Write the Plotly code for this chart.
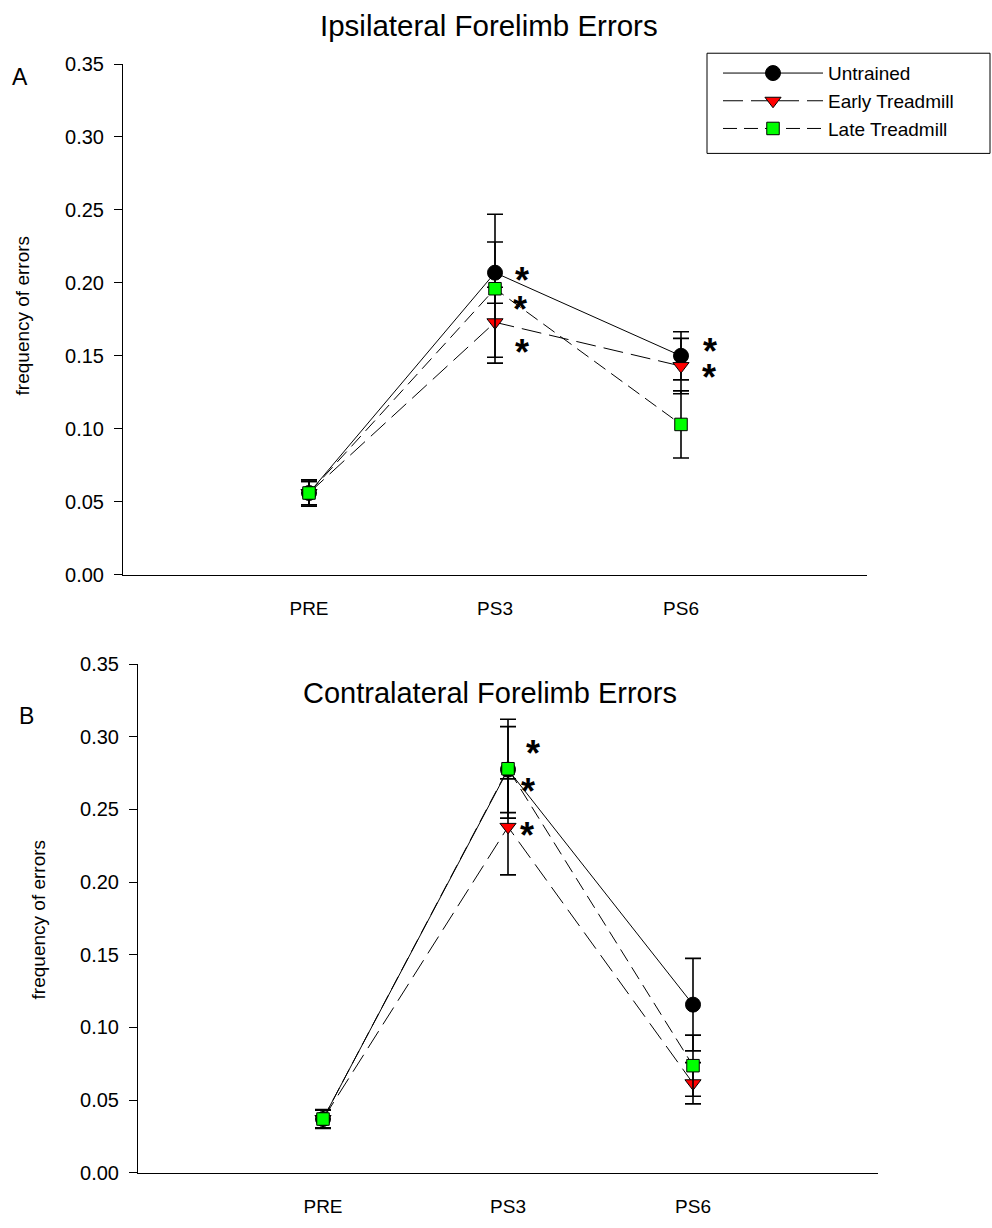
import plotly.graph_objects as go

categories = ["PRE", "PS3", "PS6"]
cat_pos = [1, 2, 3]

ipsi_untrained = [0.056, 0.207, 0.150]
ipsi_untrained_err = [0.008, 0.021, 0.0165]
ipsi_early = [0.056, 0.173, 0.143]
ipsi_early_err = [0.008, 0.024, 0.019]
ipsi_late = [0.056, 0.196, 0.103]
ipsi_late_err = [0.009, 0.051, 0.023]

contra_untrained = [0.037, 0.2774, 0.1157]
contra_untrained_err = [0.006, 0.0296, 0.0318]
contra_early = [0.037, 0.238, 0.0616]
contra_early_err = [0.006, 0.033, 0.0142]
contra_late = [0.037, 0.278, 0.0737]
contra_late_err = [0.0065, 0.034, 0.021]

series_names = ["Untrained", "Early Treadmill", "Late Treadmill"]

# significance asterisks (x in category units, y value)
ipsi_star_x = [2.144, 2.134, 2.144, 3.156, 3.151]
ipsi_star_y = [0.2072, 0.1870, 0.1578, 0.1585, 0.1409]
contra_star_x = [2.133, 2.108, 2.101]
contra_star_y = [0.2941, 0.2681, 0.2377]

FONT = "Liberation Sans, Arial, sans-serif"
W, H = 992, 1228

styles = [
    dict(line=dict(color="black", width=1, dash="solid"),
         marker=dict(symbol="circle", size=15, color="black",
                     line=dict(color="black", width=1))),
    dict(line=dict(color="black", width=1, dash="20px,8px"),
         marker=dict(symbol="triangle-down", size=14, color="#ff0000",
                     line=dict(color="black", width=1))),
    dict(line=dict(color="black", width=1, dash="14px,7px"),
         marker=dict(symbol="square", size=12.5, color="#00ff00",
                     line=dict(color="black", width=1))),
]

fig = go.Figure()

panels = [
    ("x", "y", [ipsi_untrained, ipsi_early, ipsi_late],
     [ipsi_untrained_err, ipsi_early_err, ipsi_late_err], True),
    ("x2", "y2", [contra_untrained, contra_early, contra_late],
     [contra_untrained_err, contra_early_err, contra_late_err], False),
]

for xa, ya, vals, errs, show in panels:
    for i in range(3):
        fig.add_trace(go.Scatter(
            x=cat_pos, y=vals[i], xaxis=xa, yaxis=ya,
            mode="lines+markers", name=series_names[i],
            line=styles[i]["line"], marker=styles[i]["marker"],
            error_y=dict(type="data", array=errs[i], visible=True,
                         color="black", thickness=1.6, width=8),
            showlegend=show, legendgroup=series_names[i],
        ))

star_font = dict(family=FONT, size=36, color="black")
for sx, sy in zip(ipsi_star_x, ipsi_star_y):
    fig.add_annotation(x=sx, y=sy, xref="x", yref="y", text="<b>*</b>",
                       showarrow=False, font=star_font,
                       xanchor="center", yanchor="middle", yshift=-8)
for sx, sy in zip(contra_star_x, contra_star_y):
    fig.add_annotation(x=sx, y=sy, xref="x2", yref="y2", text="<b>*</b>",
                       showarrow=False, font=star_font,
                       xanchor="center", yanchor="middle", yshift=-8)

def px_x(p):
    return p / W

def px_y(p):
    return 1 - p / H

axis_common = dict(showgrid=False, zeroline=False, showline=True,
                   linecolor="black", linewidth=1, mirror=False)

yticks = [0, 0.05, 0.10, 0.15, 0.20, 0.25, 0.30, 0.35]
YTICK = 20
XTICK = 19

fig.update_layout(
    width=W, height=H, margin=dict(l=0, r=0, t=0, b=0),
    paper_bgcolor="white", plot_bgcolor="white",
    font=dict(family=FONT, size=YTICK, color="black"),
    xaxis=dict(domain=[px_x(123), px_x(867)], range=[0, 4],
               tickvals=cat_pos, ticktext=categories, ticks="",
               tickfont=dict(size=XTICK), ticklabelstandoff=16,
               anchor="y", **axis_common),
    yaxis=dict(domain=[px_y(574), px_y(54)], range=[0, 0.35],
               tickvals=yticks, tickformat=".2f", ticks="outside", ticklen=8,
               tickcolor="black", ticklabelstandoff=6, anchor="x", **axis_common),
    xaxis2=dict(domain=[px_x(138), px_x(878)], range=[0, 4],
                tickvals=cat_pos, ticktext=categories, ticks="",
                tickfont=dict(size=XTICK), ticklabelstandoff=16,
                anchor="y2", **axis_common),
    yaxis2=dict(domain=[px_y(1183), px_y(665)], range=[0, 0.35],
                tickvals=yticks, tickformat=".2f", ticks="outside", ticklen=8,
                tickcolor="black", ticklabelstandoff=6, anchor="x2", **axis_common),
    showlegend=True,
    legend=dict(x=px_x(718), y=px_y(44), xanchor="left", yanchor="top",
                bgcolor="rgba(0,0,0,0)", borderwidth=0,
                font=dict(family=FONT, size=19), tracegroupgap=0,
                itemwidth=100),
)

# legend frame
fig.add_shape(type="rect", xref="paper", yref="paper",
              x0=px_x(707), x1=px_x(990), y0=px_y(145), y1=px_y(43),
              line=dict(color="black", width=1), fillcolor="rgba(0,0,0,0)")

# titles, panel letters, axis titles
fig.add_annotation(x=px_x(489), y=px_y(15), xref="paper", yref="paper",
                   text="Ipsilateral Forelimb Errors", showarrow=False,
                   font=dict(family=FONT, size=29.5), xanchor="center", yanchor="middle")
fig.add_annotation(x=px_x(490), y=px_y(694), xref="paper", yref="paper",
                   text="Contralateral Forelimb Errors", showarrow=False,
                   font=dict(family=FONT, size=29), xanchor="center", yanchor="middle")
fig.add_annotation(x=px_x(20), y=px_y(67), xref="paper", yref="paper",
                   text="A", showarrow=False, font=dict(family=FONT, size=23),
                   xanchor="center", yanchor="middle")
fig.add_annotation(x=px_x(26), y=px_y(718), xref="paper", yref="paper",
                   text="B", showarrow=False, font=dict(family=FONT, size=23),
                   xanchor="center", yanchor="middle")
fig.add_annotation(x=px_x(22), y=px_y(311), xref="paper", yref="paper",
                   text="frequency of errors", showarrow=False, textangle=-90,
                   font=dict(family=FONT, size=19), xanchor="center", yanchor="middle")
fig.add_annotation(x=px_x(38), y=px_y(926), xref="paper", yref="paper",
                   text="frequency of errors", showarrow=False, textangle=-90,
                   font=dict(family=FONT, size=19), xanchor="center", yanchor="middle")

fig.write_html("out.html")
